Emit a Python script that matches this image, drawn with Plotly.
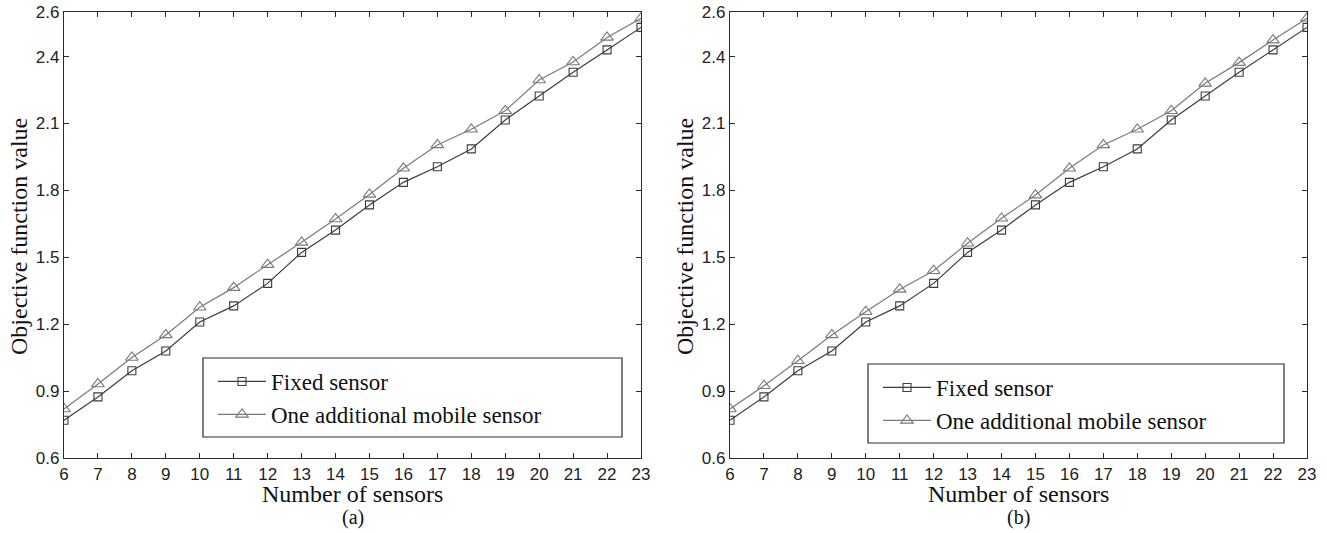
import plotly.graph_objects as go

sensors = list(range(6, 24))

fixed_a = [0.769, 0.874, 0.991, 1.080, 1.210, 1.282, 1.383, 1.522, 1.622, 1.735,
           1.836, 1.906, 1.986, 2.116, 2.223, 2.330, 2.430, 2.531]
mobile_a = [0.820, 0.932, 1.051, 1.152, 1.276, 1.364, 1.467, 1.567, 1.672, 1.782,
            1.899, 2.004, 2.074, 2.157, 2.295, 2.376, 2.486, 2.572]

fixed_b = [0.769, 0.874, 0.991, 1.080, 1.210, 1.282, 1.383, 1.522, 1.622, 1.735,
           1.836, 1.906, 1.986, 2.116, 2.223, 2.330, 2.430, 2.531]
mobile_b = [0.820, 0.924, 1.036, 1.152, 1.256, 1.356, 1.440, 1.563, 1.675, 1.779,
            1.899, 2.004, 2.074, 2.157, 2.280, 2.373, 2.474, 2.572]

y_ticks = [0.6, 0.9, 1.2, 1.5, 1.8, 2.1, 2.4, 2.6]
y_tick_text = ["0.6", "0.9", "1.2", "1.5", "1.8", "2.1", "2.4", "2.6"]
series_names = ["Fixed sensor", "One additional mobile sensor"]
captions = ["(a)", "(b)"]
x_title = "Number of sensors"
y_title = "Objective function value"

W, H = 1327, 533
SERIF = "Liberation Serif, Times New Roman, serif"
SANS = "Liberation Sans, Arial, sans-serif"
AX = "#2b2b2b"
C_FIX = "#3c3c3c"
C_MOB = "#7a7a7a"

fig = go.Figure()

panels = [
    dict(x0=64, x1=641, xa="x", ya="y", fixed=fixed_a, mobile=mobile_a, legend="legend",
         box=(203, 358, 622, 437), cap=captions[0]),
    dict(x0=730, x1=1307, xa="x2", ya="y2", fixed=fixed_b, mobile=mobile_b, legend="legend2",
         box=(868, 364, 1284, 443), cap=captions[1]),
]
plot_top, plot_bot = 12, 458

def px_x(p):
    return p / W

def px_y(p):
    return 1 - p / H

for p in panels:
    fig.add_trace(go.Scatter(
        x=sensors, y=p["fixed"], name=series_names[0], mode="lines+markers",
        xaxis=p["xa"], yaxis=p["ya"], legend=p["legend"],
        line=dict(color=C_FIX, width=1.2),
        marker=dict(symbol="square-open", size=8, color=C_FIX, line=dict(width=1.1, color=C_FIX)),
    ))
    fig.add_trace(go.Scatter(
        x=sensors, y=p["mobile"], name=series_names[1], mode="lines+markers",
        xaxis=p["xa"], yaxis=p["ya"], legend=p["legend"],
        line=dict(color=C_MOB, width=1.2),
        marker=dict(symbol="triangle-up-open", size=11, color=C_MOB, line=dict(width=1.1, color=C_MOB)),
    ))

axis_common = dict(showgrid=False, zeroline=False, showline=True, linecolor=AX, linewidth=1.2,
                   mirror="ticks", ticks="inside", ticklen=5, tickcolor=AX, tickwidth=1,
                   tickfont=dict(family=SANS, size=17, color="#222"))

layout = dict(
    width=W, height=H, paper_bgcolor="white", plot_bgcolor="white",
    margin=dict(l=0, r=0, t=0, b=0, autoexpand=False),
    showlegend=True,
)

for i, p in enumerate(panels):
    sfx = "" if i == 0 else "2"
    layout["xaxis" + sfx] = dict(axis_common, domain=[px_x(p["x0"]), px_x(p["x1"])],
                                 range=[6, 23], tickvals=sensors, anchor="y" + sfx)
    layout["yaxis" + sfx] = dict(axis_common, domain=[px_y(plot_bot), px_y(plot_top)],
                                 range=[0.6, 2.6], tickvals=y_ticks, ticktext=y_tick_text,
                                 anchor="x" + sfx)
    bx0, by0, bx1, by1 = p["box"]
    layout["legend" + sfx] = dict(
        x=px_x(bx0 + 10), y=px_y(by0 + 2), xanchor="left", yanchor="top",
        bgcolor="rgba(0,0,0,0)", borderwidth=0, itemwidth=48, tracegroupgap=0,
        font=dict(family=SERIF, size=23, color="#111"),
    )

fig.update_layout(**layout)

shapes = []
annotations = []
for p in panels:
    bx0, by0, bx1, by1 = p["box"]
    shapes.append(dict(type="rect", xref="paper", yref="paper",
                       x0=px_x(bx0), x1=px_x(bx1), y0=px_y(by1), y1=px_y(by0),
                       line=dict(color=AX, width=1.2), fillcolor="white", layer="below"))
    cx = (p["x0"] + p["x1"]) / 2
    annotations.append(dict(text=x_title, xref="paper", yref="paper", x=px_x(cx), y=px_y(494),
                            xanchor="center", yanchor="middle", showarrow=False,
                            font=dict(family=SERIF, size=24, color="#111")))
    annotations.append(dict(text=p["cap"], xref="paper", yref="paper", x=px_x(cx), y=px_y(517),
                            xanchor="center", yanchor="middle", showarrow=False,
                            font=dict(family=SERIF, size=20, color="#111")))
    annotations.append(dict(text=y_title, xref="paper", yref="paper", x=px_x(p["x0"] - 45),
                            y=px_y(237), xanchor="center", yanchor="middle", showarrow=False,
                            textangle=-90, font=dict(family=SERIF, size=24, color="#111")))

fig.update_layout(shapes=shapes, annotations=annotations)
fig.write_html("out.html", config={"displayModeBar": False},
               post_script="document.body.style.margin='0';document.body.style.overflow='hidden';")
